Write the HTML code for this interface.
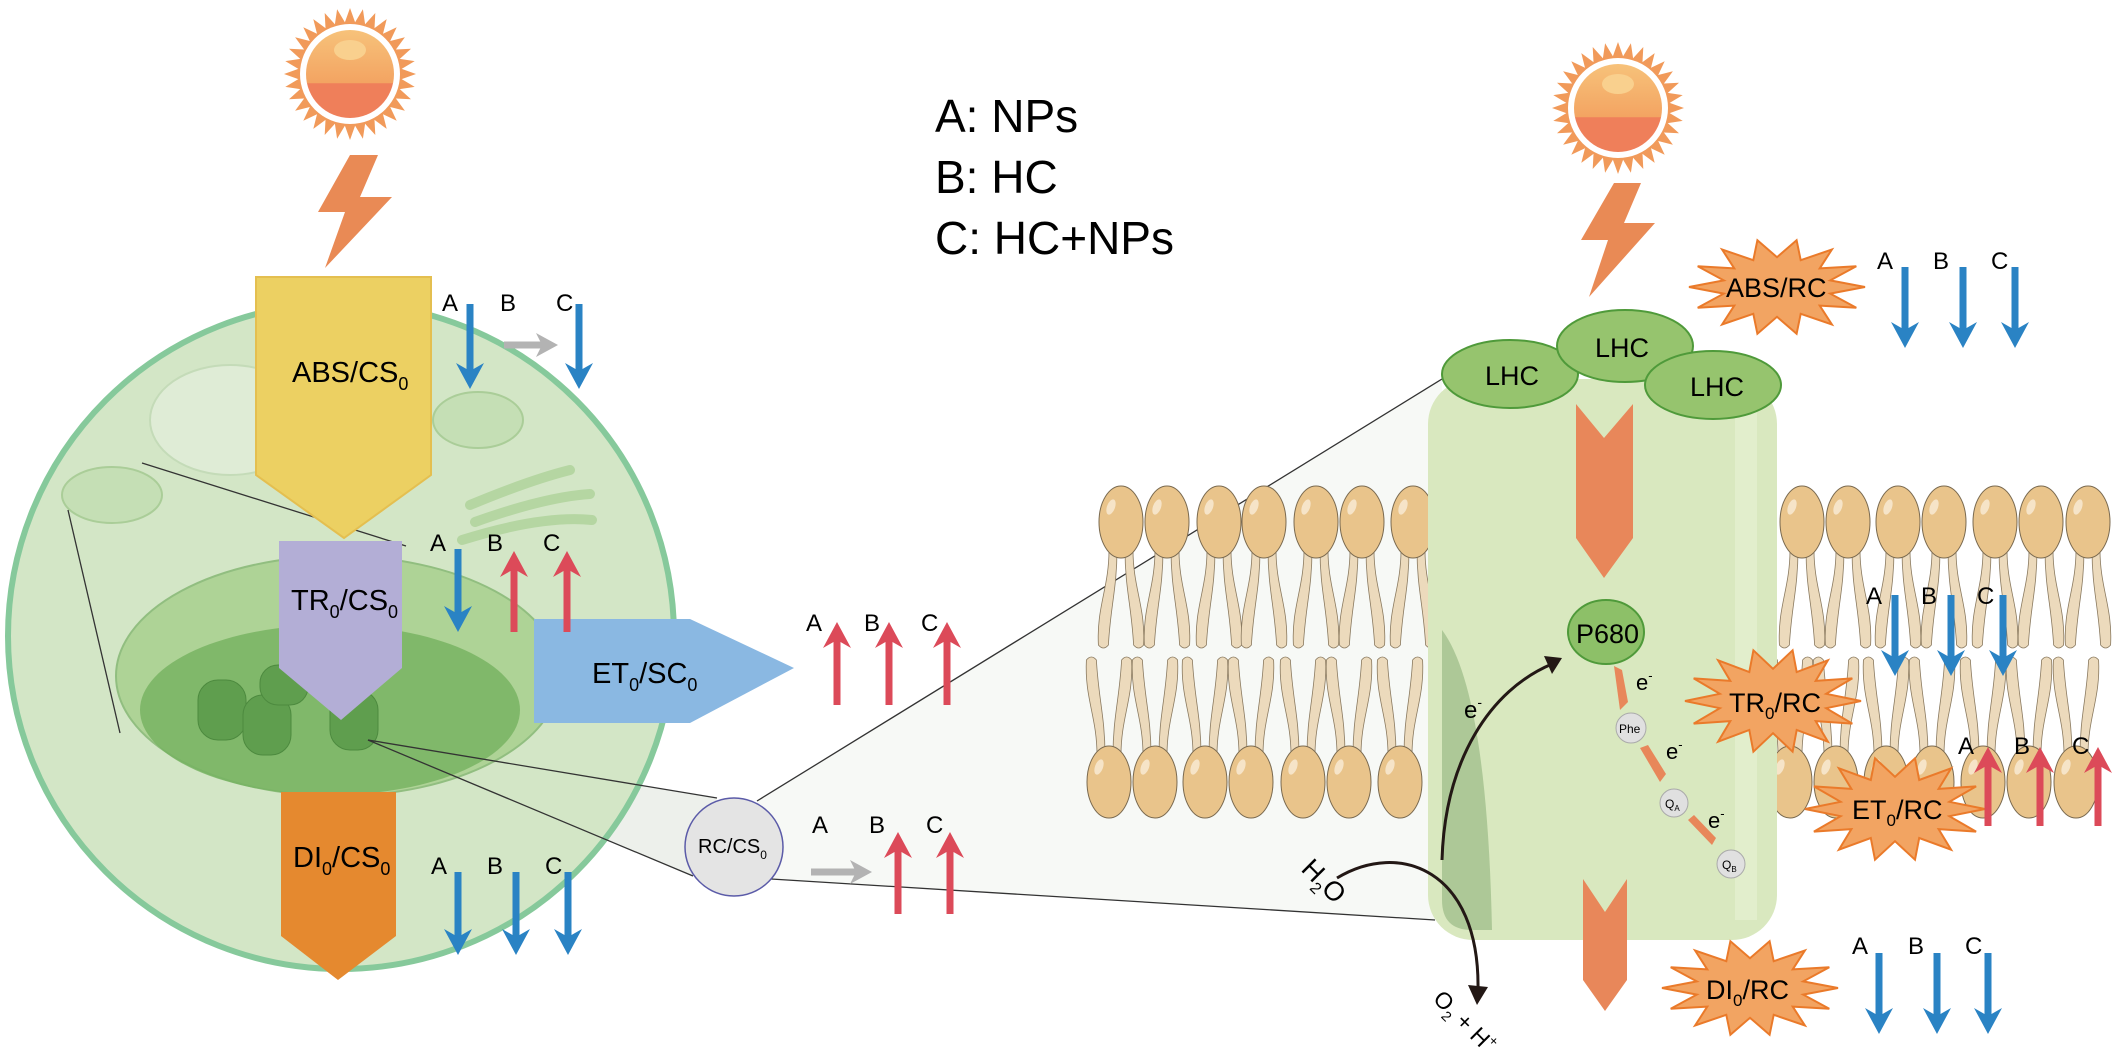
<!DOCTYPE html>
<html><head><meta charset="utf-8"><style>
html,body{margin:0;padding:0;background:#fff;}
svg{display:block;font-family:"Liberation Sans",Arial,sans-serif;}
</style></head><body>
<svg id="s" width="2122" height="1048" viewBox="0 0 2122 1048" xmlns="http://www.w3.org/2000/svg">
<defs>
<linearGradient id="sunG" x1="0" y1="0" x2="0" y2="1"><stop offset="0" stop-color="#f7c27a"/><stop offset="0.6" stop-color="#f3a462"/><stop offset="0.61" stop-color="#ef7f5a"/><stop offset="1" stop-color="#ef7f5a"/></linearGradient>
</defs>
<g id="bg">
<polygon points="757,801 1442,379 1435,920 771,879" fill="#f4f6f2" opacity="0.7"/>
<polygon points="368,740 717,798 693,876" fill="#e9ece6" opacity="0.8"/>
<circle cx="341" cy="636" r="333" fill="#d3e6c6" stroke="#86c99b" stroke-width="6"/>
<ellipse cx="230" cy="420" rx="80" ry="55" fill="#dfecd6" stroke="#c4dbb8" stroke-width="2"/>
<ellipse cx="478" cy="420" rx="45" ry="28" fill="#c5dfb5" stroke="#aacd98" stroke-width="2"/>
<ellipse cx="112" cy="495" rx="50" ry="28" fill="#c5dfb5" stroke="#aacd98" stroke-width="2"/>
<path d="M470,505 q60,-25 100,-35 M475,522 q70,-25 115,-28 M462,540 q80,-25 130,-20" stroke="#b5d6a2" stroke-width="10" fill="none" stroke-linecap="round"/>
<ellipse cx="338" cy="676" rx="222" ry="120" fill="#a8d08e" stroke="#86b874" stroke-width="2" opacity="0.85"/>
<ellipse cx="330" cy="710" rx="190" ry="85" fill="#74b25f" opacity="0.8"/>
<g fill="#5f9e4e" stroke="#4d8a3f" stroke-width="1">
<rect x="198" y="680" width="48" height="60" rx="20"/><rect x="243" y="695" width="48" height="60" rx="20"/><rect x="330" y="690" width="48" height="60" rx="20"/><rect x="260" y="665" width="48" height="40" rx="18"/>
</g>
<g stroke="#333" stroke-width="1.3" fill="none">
<line x1="142" y1="463" x2="406" y2="546"/><line x1="68" y1="510" x2="120" y2="733"/>
<line x1="368" y1="740" x2="717" y2="798"/><line x1="368" y1="740" x2="693" y2="876"/>
<line x1="757" y1="801" x2="1442" y2="379"/><line x1="771" y1="879" x2="1435" y2="920"/>
</g>
</g>
<g id="suns"></g>
<polygon points="350,155 378,155 360,197 392,197 325,268 345,212 318,212" fill="#e98a55"/>
<polygon points="1614,183 1641,183 1624,223 1655,223 1589,297 1608,240 1581,240" fill="#e98a55"/>
<polygon points="256,277 431,277 431,475 344,538 256,475" fill="#ecd062" stroke="#e4bf50" stroke-width="2"/>
<polygon points="279,541 402,541 402,668 341,720 279,668" fill="#b3aed6"/>
<polygon points="534,619 690,619 794,668 690,723 534,723" fill="#8ab8e2"/>
<polygon points="281,792 396,792 396,936 338,980 281,936" fill="#e5892f"/>
<text x="292" y="382" font-size="29">ABS/CS<tspan font-size="18" dy="8">0</tspan></text>
<text x="291" y="610" font-size="29">TR<tspan font-size="18" dy="8">0</tspan><tspan dy="-8">/CS</tspan><tspan font-size="18" dy="8">0</tspan></text>
<text x="592" y="683" font-size="29">ET<tspan font-size="18" dy="8">0</tspan><tspan dy="-8">/SC</tspan><tspan font-size="18" dy="8">0</tspan></text>
<text x="293" y="867" font-size="29">DI<tspan font-size="18" dy="8">0</tspan><tspan dy="-8">/CS</tspan><tspan font-size="18" dy="8">0</tspan></text>
<circle cx="734" cy="847" r="49" fill="#e4e4e4" stroke="#5b5ba8" stroke-width="1.5"/>
<text x="698" y="853" font-size="20">RC/CS<tspan font-size="12" dy="6">0</tspan></text>
<text x="935" y="132" font-size="46">A: NPs</text>
<text x="935" y="193" font-size="46">B: HC</text>
<text x="935" y="254" font-size="46">C: HC+NPs</text>
<g id="lip"></g>
<rect x="1428" y="379" width="349" height="561" rx="45" fill="#d9e8bf"/>
<path d="M1442,630 q45,60 50,300 l-20,0 q-30,0 -30,-30 z" fill="#adc897"/>
<rect x="1735" y="400" width="22" height="520" fill="#e4efd0" opacity="0.8"/>
<g stroke="#4f9a3a" stroke-width="2" fill="#96c46e">
<ellipse cx="1510" cy="374" rx="68" ry="34"/><ellipse cx="1625" cy="346" rx="68" ry="36"/><ellipse cx="1713" cy="385" rx="68" ry="34"/>
</g>
<text x="1485" y="385" font-size="27">LHC</text><text x="1595" y="357" font-size="27">LHC</text><text x="1690" y="396" font-size="27">LHC</text>
<polygon points="1576,404 1604,438 1633,404 1633,538 1604,578 1576,538" fill="#e8875a"/>
<polygon points="1583,879 1605,912 1627,879 1627,980 1605,1011 1583,980" fill="#e8875a"/>
<ellipse cx="1606" cy="632" rx="38" ry="32" fill="#8dc068" stroke="#4f9a3a" stroke-width="2"/>
<text x="1576" y="643" font-size="27">P680</text>
<g fill="#e0e0e0" stroke="#aaa"><circle cx="1631" cy="728" r="15"/><circle cx="1674" cy="803" r="14"/><circle cx="1731" cy="864" r="14"/></g>
<text x="1619" y="733" font-size="12">Phe</text><text x="1665" y="808" font-size="12">Q<tspan font-size="8" dy="3">A</tspan></text><text x="1722" y="869" font-size="12">Q<tspan font-size="8" dy="3">B</tspan></text>
<g fill="#e8875a"><polygon points="1614,666 1622,670 1628,702 1620,710"/><polygon points="1640,748 1648,745 1666,774 1660,782"/><polygon points="1688,820 1694,815 1716,838 1712,845"/></g>
<text x="1636" y="690" font-size="22">e<tspan font-size="13" dy="-10">-</tspan></text>
<text x="1666" y="759" font-size="22">e<tspan font-size="13" dy="-10">-</tspan></text>
<text x="1708" y="828" font-size="22">e<tspan font-size="13" dy="-10">-</tspan></text>
<text x="1464" y="718" font-size="24">e<tspan font-size="14" dy="-11">-</tspan></text>
<path d="M1442,860 C1445,760 1490,690 1552,664" stroke="#231815" stroke-width="3" fill="none"/>
<polygon points="1562,658 1544,656 1552,674" fill="#231815"/>
<path d="M1337,878 C1400,840 1480,870 1478,990" stroke="#231815" stroke-width="3" fill="none"/>
<polygon points="1477,1005 1468,985 1488,987" fill="#231815"/>
<text transform="translate(1300,870) rotate(45)" font-size="27">H<tspan font-size="16" dy="7">2</tspan><tspan dy="-7">O</tspan></text>
<text transform="translate(1432,1000) rotate(45)" font-size="23">O<tspan font-size="14" dy="6">2</tspan><tspan dy="-6"> + H</tspan><tspan font-size="14" dy="-10">+</tspan></text>
<g id="stars"></g>
<text x="1726" y="297" font-size="27">ABS/RC</text>
<text x="1729" y="712" font-size="27">TR<tspan font-size="17" dy="7">0</tspan><tspan dy="-7">/RC</tspan></text>
<text x="1852" y="819" font-size="27">ET<tspan font-size="17" dy="7">0</tspan><tspan dy="-7">/RC</tspan></text>
<text x="1706" y="999" font-size="27">DI<tspan font-size="17" dy="7">0</tspan><tspan dy="-7">/RC</tspan></text>
<g id="arr"></g>
<g font-size="24">
<text x="442" y="311">A</text><text x="500" y="311">B</text><text x="556" y="311">C</text>
<text x="430" y="551">A</text><text x="487" y="551">B</text><text x="543" y="551">C</text>
<text x="806" y="631">A</text><text x="864" y="631">B</text><text x="921" y="631">C</text>
<text x="812" y="833">A</text><text x="869" y="833">B</text><text x="926" y="833">C</text>
<text x="431" y="874">A</text><text x="487" y="874">B</text><text x="545" y="874">C</text>
<text x="1877" y="269">A</text><text x="1933" y="269">B</text><text x="1991" y="269">C</text>
<text x="1866" y="604">A</text><text x="1921" y="604">B</text><text x="1977" y="604">C</text>
<text x="1958" y="754">A</text><text x="2014" y="754">B</text><text x="2072" y="754">C</text>
<text x="1852" y="954">A</text><text x="1908" y="954">B</text><text x="1965" y="954">C</text>
</g>
</svg>
<script>
(function(){
var NS="http://www.w3.org/2000/svg";
function el(p,t,a){var e=document.createElementNS(NS,t);for(var k in a)e.setAttribute(k,a[k]);document.getElementById(p).appendChild(e);return e;}
[[350,74],[1618,108]].forEach(function(c){var pts=[];for(var i=0;i<64;i++){var r=i%2?52:66;var a=i*Math.PI/32;pts.push((c[0]+r*Math.cos(a)).toFixed(1)+","+(c[1]+r*Math.sin(a)).toFixed(1));}
el("suns","polygon",{points:pts.join(" "),fill:"#f19a5a"});el("suns","circle",{cx:c[0],cy:c[1],r:50,fill:"#fff"});el("suns","circle",{cx:c[0],cy:c[1],r:44,fill:"url(#sunG)"});el("suns","ellipse",{cx:c[0],cy:c[1]-24,rx:16,ry:10,fill:"#f9d08e"});});
var topRow=[1121,1167,1219,1264,1316,1362,1413,1802,1848,1898,1944,1995,2041,2088];
var botRow=[1109,1155,1205,1251,1303,1349,1400,1790,1836,1886,1932,1983,2029,2076];
function tail(x,y1,y2,dx){return "M"+(x-4)+","+y1+" C"+(x-4)+","+(y1+(y2-y1)*0.4)+" "+(x+dx-7)+","+(y2-(y2-y1)*0.4)+" "+(x+dx-5)+","+y2+" Q"+(x+dx)+","+(y2+(y2>y1?6:-6))+" "+(x+dx+5)+","+y2+" C"+(x+dx+7)+","+(y2-(y2-y1)*0.4)+" "+(x+4)+","+(y1+(y2-y1)*0.4)+" "+(x+4)+","+y1+"Z";}
topRow.forEach(function(x){[-8,8].forEach(function(o){el("lip","path",{d:tail(x+o,550,645,o*1.2),fill:"#ecdabc",stroke:"#8a7a60","stroke-width":0.8});});el("lip","ellipse",{cx:x,cy:522,rx:22,ry:36,fill:"#e9c48b",stroke:"#7a6a50","stroke-width":1});el("lip","ellipse",{cx:x-10,cy:507,rx:4,ry:8,fill:"#f6e4c8",transform:"rotate(20 "+(x-10)+" 507)"});});
botRow.forEach(function(x){[-8,8].forEach(function(o){el("lip","path",{d:tail(x+o,755,660,o*1.2),fill:"#ecdabc",stroke:"#8a7a60","stroke-width":0.8});});el("lip","ellipse",{cx:x,cy:782,rx:22,ry:36,fill:"#e9c48b",stroke:"#7a6a50","stroke-width":1});el("lip","ellipse",{cx:x-10,cy:767,rx:4,ry:8,fill:"#f6e4c8",transform:"rotate(20 "+(x-10)+" 767)"});});
[[1777,287,88,48],[1773,701,88,52],[1895,809,90,52],[1750,988,88,48]].forEach(function(s){var pts=[];var n=28;for(var i=0;i<n;i++){var f=i%2?0.62:1;var a=i*2*Math.PI/n;pts.push((s[0]+s[2]*f*Math.cos(a)).toFixed(1)+","+(s[1]+s[3]*f*Math.sin(a)).toFixed(1));}
el("stars","polygon",{points:pts.join(" "),fill:"#f2a462",stroke:"#ea7a2a","stroke-width":2});});
function down(x,y1,y2,c){el("arr","rect",{x:x-3.5,y:y1,width:7,height:y2-y1-18,fill:c});el("arr","polygon",{points:(x-14)+","+(y2-26)+" "+x+","+(y2-18)+" "+(x+14)+","+(y2-26)+" "+x+","+y2,fill:c});}
function up(x,y1,y2,c){el("arr","rect",{x:x-3.5,y:y1+18,width:7,height:y2-y1-18,fill:c});el("arr","polygon",{points:(x-14)+","+(y1+26)+" "+x+","+(y1+18)+" "+(x+14)+","+(y1+26)+" "+x+","+y1,fill:c});}
function right(x1,x2,y,c){el("arr","rect",{x:x1,y:y-3.5,width:x2-x1-16,height:7,fill:c});el("arr","polygon",{points:(x2-22)+","+(y-12)+" "+(x2-16)+","+y+" "+(x2-22)+","+(y+12)+" "+x2+","+y,fill:c});}
var B="#2a83c4",R="#dc4a59",G="#b3b3b3";
down(470,304,389,B);right(504,558,345,G);down(579,304,389,B);
down(458,549,632,B);up(514,551,632,R);up(567,551,632,R);
up(837,622,705,R);up(889,622,705,R);up(947,622,705,R);
right(811,872,872,G);up(898,832,914,R);up(950,832,914,R);
down(458,872,955,B);down(516,872,955,B);down(568,872,955,B);
down(1905,267,348,B);down(1963,267,348,B);down(2015,267,348,B);
down(1895,595,676,B);down(1951,595,676,B);down(2003,595,676,B);
up(1988,747,826,R);up(2040,747,826,R);up(2098,747,826,R);
down(1879,953,1034,B);down(1937,953,1034,B);down(1988,953,1034,B);
})();
</script>
</body></html>
